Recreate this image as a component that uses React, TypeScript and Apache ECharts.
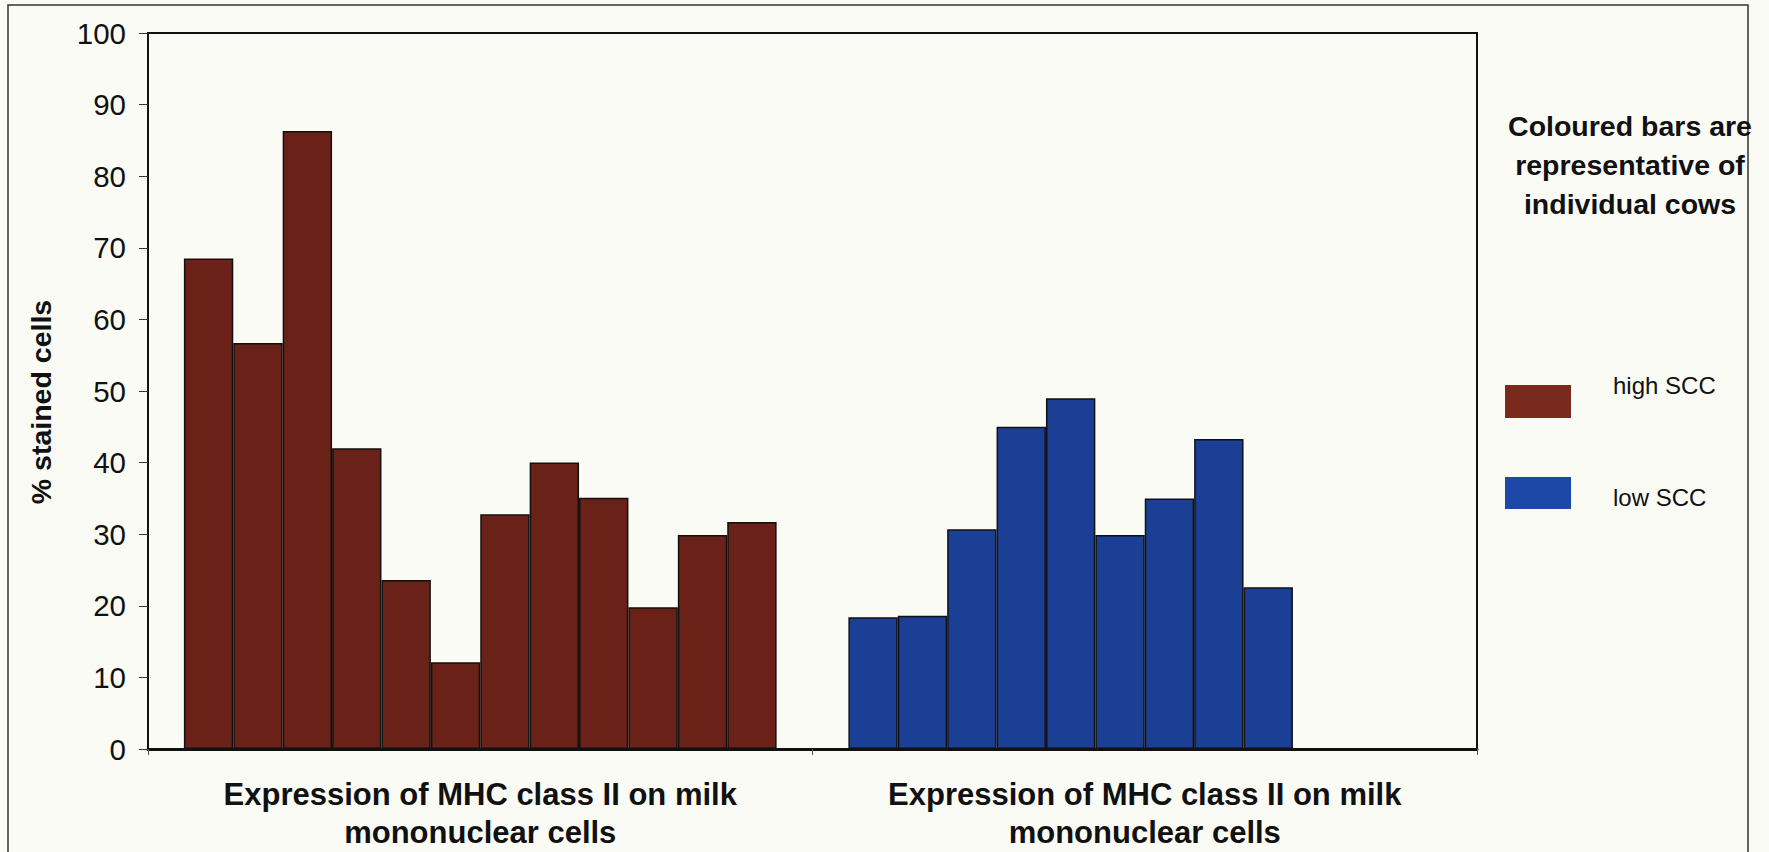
import React, { useEffect, useRef } from "react";
import * as echarts from "echarts";

const categories = [
  "Expression of MHC class II on milk\nmononuclear cells",
  "Expression of MHC class II on milk\nmononuclear cells",
];
const highSCC = [68.5, 56.7, 86.3, 42.0, 23.6, 12.1, 32.8, 40.0, 35.1, 19.8, 29.9, 31.7];
const lowSCC = [18.4, 18.6, 30.7, 45.0, 49.0, 29.9, 35.0, 43.3, 22.6];
const yTicks = { min: 0, max: 100, interval: 10 };
const yTitle = "% stained cells";
const legendTitle = "Coloured bars are\nrepresentative of\nindividual cows";
const legendLabels = ["high SCC", "low SCC"];

const BROWN = "#6a2117";
const BLUE = "#1b3f95";
const FONT = "'Liberation Sans', Arial, Helvetica, sans-serif";

export default function App() {
  const ref = useRef<HTMLDivElement>(null);
  useEffect(() => {
    if (!ref.current) return;
    const chart = echarts.init(ref.current, null, { renderer: "svg" });
    const slots = Math.max(highSCC.length, lowSCC.length);
    const series: any[] = [];
    for (let i = 0; i < slots; i++) {
      series.push({
        type: "bar",
        name: "cow " + (i + 1),
        barGap: "0%",
        barCategoryGap: "10.8%",
        data: [
          highSCC[i] === undefined ? "-" : { value: highSCC[i], itemStyle: { color: BROWN } },
          lowSCC[i] === undefined ? "-" : { value: lowSCC[i], itemStyle: { color: BLUE } },
        ],
        itemStyle: { borderColor: "#111", borderWidth: 1.5 },
      });
    }
    chart.setOption({
      animation: false,
      backgroundColor: "#fbfbf6",
      textStyle: { fontFamily: FONT },
      grid: {
        left: 148,
        top: 33,
        right: 292,
        bottom: 103,
        containLabel: false,
        outerBoundsMode: "none",
        show: true,
        borderColor: "#111",
        borderWidth: 2,
        backgroundColor: "transparent",
      },
      xAxis: {
        type: "category",
        data: categories,
        axisLine: { lineStyle: { color: "#111", width: 3 } },
        axisTick: { show: true, length: 6, lineStyle: { color: "#555", width: 1 } },
        axisLabel: {
          fontFamily: FONT,
          fontWeight: "bold",
          fontSize: 31,
          lineHeight: 38,
          color: "#111",
          margin: 26,
          interval: 0,
        },
      },
      yAxis: {
        type: "value",
        min: yTicks.min,
        max: yTicks.max,
        interval: yTicks.interval,
        name: yTitle,
        nameLocation: "middle",
        nameRotate: 90,
        nameGap: 93,
        nameTextStyle: {
          fontFamily: FONT,
          fontWeight: "bold",
          fontSize: 28.5,
          color: "#111",
          padding: [0, 22, 0, 0],
        },
        axisLine: { show: true, lineStyle: { color: "#111", width: 2 } },
        axisTick: { show: true, inside: false, length: 9, lineStyle: { color: "#333", width: 1 } },
        axisLabel: { fontFamily: FONT, fontSize: 29.5, color: "#111", margin: 22 },
        splitLine: { show: false },
      },
      series,
      graphic: [
        {
          type: "rect",
          shape: { x: 8, y: 5, width: 1740, height: 900 },
          style: { fill: "none", stroke: "#333", lineWidth: 1.5 },
          silent: true,
        },
        {
          type: "text",
          x: 1630,
          y: 106,
          style: {
            text: legendTitle,
            fontFamily: FONT,
            fontWeight: "bold",
            fontSize: 28.5,
            lineHeight: 39,
            fill: "#111",
            align: "center",
            verticalAlign: "top",
          },
        },
        {
          type: "rect",
          shape: { x: 1505, y: 385, width: 66, height: 33 },
          style: { fill: "#7a2a1c" },
        },
        {
          type: "rect",
          shape: { x: 1505, y: 477, width: 66, height: 32 },
          style: { fill: "#1d48a8" },
        },
        {
          type: "text",
          x: 1613,
          y: 385,
          style: {
            text: legendLabels[0],
            fontFamily: FONT,
            fontSize: 24,
            fill: "#111",
            align: "left",
            verticalAlign: "middle",
          },
        },
        {
          type: "text",
          x: 1613,
          y: 497,
          style: {
            text: legendLabels[1],
            fontFamily: FONT,
            fontSize: 24,
            fill: "#111",
            align: "left",
            verticalAlign: "middle",
          },
        },
      ],
    });
    return () => chart.dispose();
  }, []);
  return (
    <div
      ref={ref}
      style={{ position: "absolute", left: 0, top: 0, width: 1769, height: 852 }}
    />
  );
}
